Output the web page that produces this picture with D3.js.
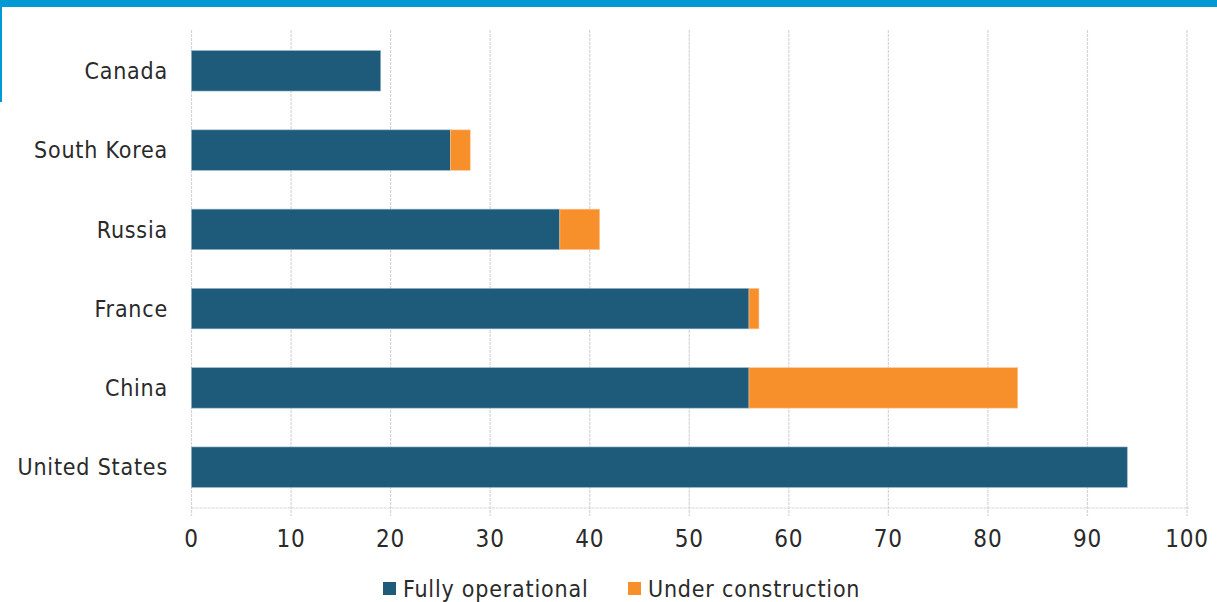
<!DOCTYPE html>
<html><head><meta charset="utf-8">
<script src="https://cdn.jsdelivr.net/npm/d3@7"></script>
<style>body{margin:0;background:#fff;}svg{display:block;}</style>
</head><body>
<svg id="c" width="1217" height="602"></svg>
<script>
const categories = ["Canada","South Korea","Russia","France","China","United States"];
const operational = [19, 26, 37, 56, 56, 94];
const construction = [0, 2, 4, 1, 27, 0];
const ticks = [0,10,20,30,40,50,60,70,80,90,100];
const seriesNames = ["Fully operational","Under construction"];
const colors = ["#1e5a7a","#f78f2b"];

const svg = d3.select("#c");
const font = "'DejaVu Sans Condensed', 'DejaVu Sans', sans-serif";
const fs = 23;
svg.append("rect").attr("x",0).attr("y",0).attr("width",1217).attr("height",7).attr("fill","#0099d4");
svg.append("rect").attr("x",0).attr("y",0).attr("width",2).attr("height",102).attr("fill","#0099d4");

const x = d3.scaleLinear().domain([0,100]).range([191.5,1187]);
const y = d3.scaleBand().domain(categories).range([30,508]).paddingInner(0.49).paddingOuter(0.26);

const g = svg.append("g");
g.selectAll(".grid").data(ticks).enter().append("line")
  .attr("x1",d=>x(d)).attr("x2",d=>x(d)).attr("y1",30).attr("y2",516)
  .attr("stroke","#d4d4d4").attr("stroke-width",1.2).attr("stroke-dasharray","3,1");
g.append("line").attr("x1",x(0)).attr("x2",x(100)+2).attr("y1",508).attr("y2",508)
  .attr("stroke","#d4d4d4").attr("stroke-width",1.2).attr("stroke-dasharray","3,1");

const data = categories.map((c,i)=>({c, a:operational[i], b:construction[i]}));
g.selectAll(".op").data(data).enter().append("rect")
  .attr("x",x(0)).attr("y",d=>y(d.c)).attr("width",d=>x(d.a)-x(0)).attr("height",y.bandwidth())
  .attr("fill",colors[0]).attr("stroke","#8fb3c7").attr("stroke-width",0.6);
g.selectAll(".uc").data(data.filter(d=>d.b>0)).enter().append("rect")
  .attr("x",d=>x(d.a)).attr("y",d=>y(d.c)).attr("width",d=>x(d.a+d.b)-x(d.a)).attr("height",y.bandwidth())
  .attr("fill",colors[1]).attr("stroke","#fbc79a").attr("stroke-width",0.6);

g.selectAll(".yl").data(categories).enter().append("text")
  .attr("x",168).attr("y",d=>y(d)+y.bandwidth()/2).attr("dy","0.36em")
  .attr("text-anchor","end").attr("font-family",font).attr("font-size",fs).attr("fill","#2a2a2a")
  .attr("letter-spacing",0.8).text(d=>d);
g.selectAll(".xl").data(ticks).enter().append("text")
  .attr("x",d=>x(d)).attr("y",538).attr("dy","0.36em")
  .attr("text-anchor","middle").attr("font-family",font).attr("font-size",24).attr("fill","#2a2a2a")
  .attr("letter-spacing",0.8).text(d=>d);

const leg = svg.append("g");
const lx = [383, 628];
seriesNames.forEach((n,i)=>{
  leg.append("rect").attr("x",lx[i]).attr("y",582).attr("width",13).attr("height",13).attr("fill",colors[i]);
  leg.append("text").attr("x",lx[i]+20).attr("y",589).attr("dy","0.36em")
    .attr("font-family",font).attr("font-size",fs).attr("fill","#2a2a2a").attr("letter-spacing",0.8).text(n);
});
</script>
</body></html>
